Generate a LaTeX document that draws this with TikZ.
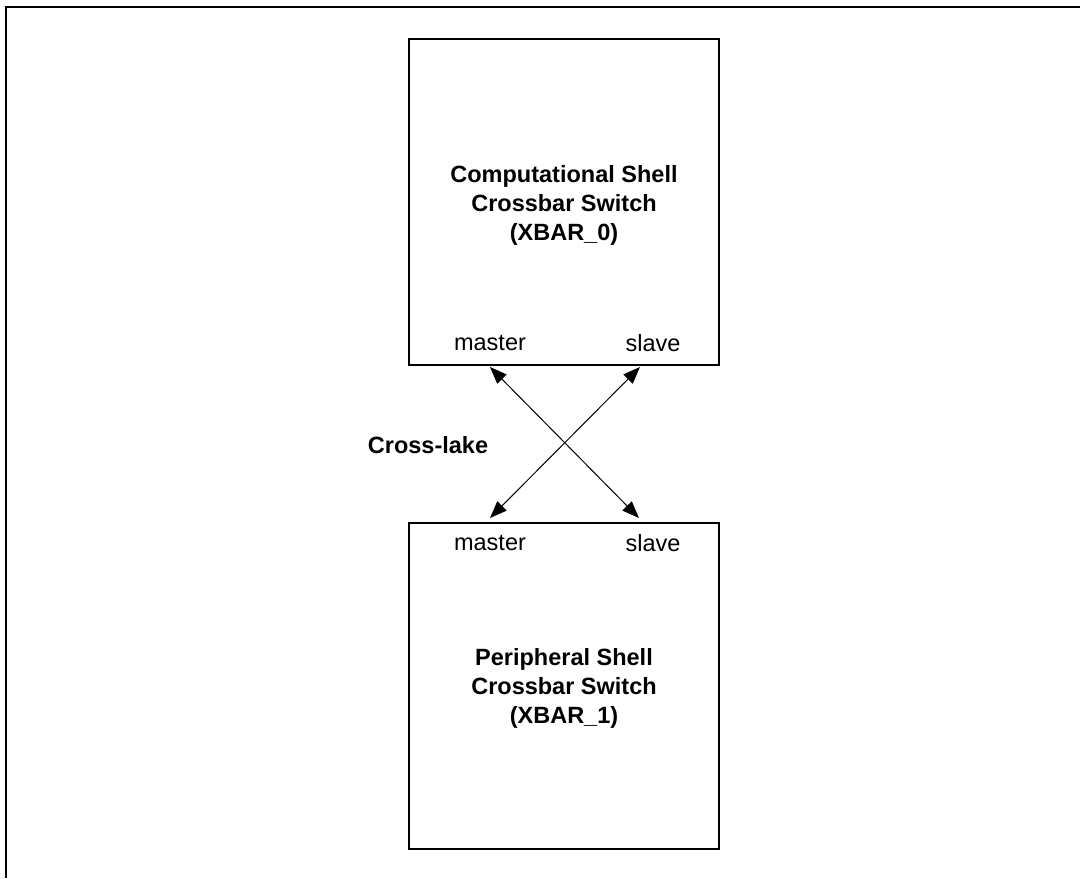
\documentclass[tikz,border=0pt]{standalone}
\usepackage{fontspec}
\setmainfont{Liberation Sans}
\usepackage{tikz}
\usetikzlibrary{arrows.meta,positioning}

\begin{document}
\begin{tikzpicture}[x=0.5pt, y=-0.5pt,
    xbar/.style={draw, line width=1pt, minimum width=155pt, minimum height=163pt, inner sep=0pt, align=center, font=\fontsize{11.75pt}{14.5pt}\selectfont\bfseries},
    port/.style={font=\fontsize{11.75pt}{14.5pt}\selectfont, inner sep=0pt},
    link/.style={{Triangle[length=8.5pt,width=6.5pt]}-{Triangle[length=8.5pt,width=6.5pt]}, line width=0.5pt}]
  \useasboundingbox (0,0) rectangle (1080,878);

  % Outer frame (cut off at right and bottom)
  \draw[line width=1pt] (6,878) -- (6,7) -- (1080,7);

  % Crossbar switches
  \node[xbar] (xbar0) at (564,202) {};
  \node[xbar] (xbar1) at (564,685.5) {};
  \node[xbar, draw=none, minimum width=0pt, minimum height=0pt] (name0) at (564,205) {Computational Shell\\Crossbar Switch\\(XBAR\_0)};
  \node[xbar, draw=none, minimum width=0pt, minimum height=0pt] (name1) at (564,688) {Peripheral Shell\\Crossbar Switch\\(XBAR\_1)};

  % Ports
  \node[port] (m0) at (490,343) {master};
  \node[port] (s0) at (653,343) {slave};
  \node[port] (m1) at (490,543) {master};
  \node[port] (s1) at (653,543) {slave};

  \coordinate (m0p) at (490,367);
  \coordinate (s0p) at (640,367);
  \coordinate (m1p) at (490,518);
  \coordinate (s1p) at (639,518);

  % Cross-lake links
  \draw[link] (m0p) -- (s1p);
  \draw[link] (s0p) -- (m1p);
  \node[port, font=\fontsize{11.75pt}{14.5pt}\selectfont\bfseries] (lake) at (428,445) {Cross-lake};
\end{tikzpicture}
\end{document}
